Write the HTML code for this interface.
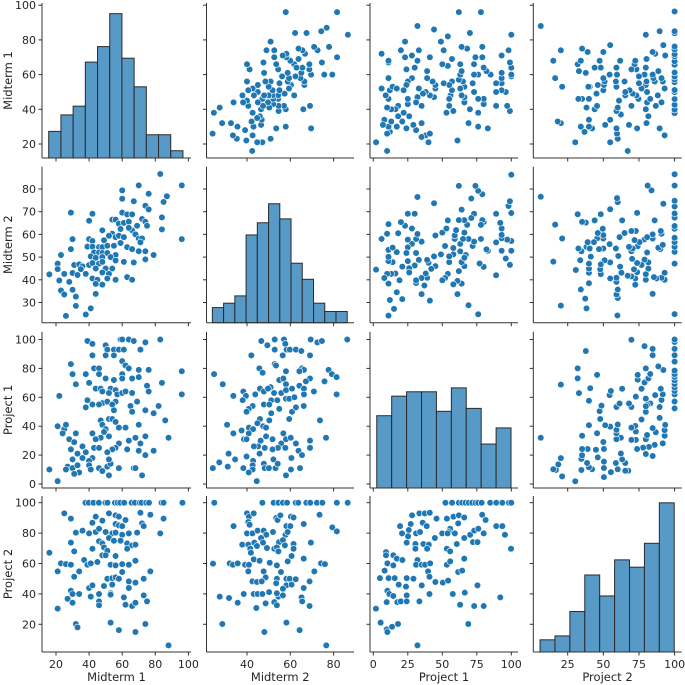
<!DOCTYPE html>
<html><head><meta charset="utf-8"><style>
html,body{margin:0;padding:0;background:#fff}
svg{display:block}
text{font-family:"DejaVu Sans","Liberation Sans",sans-serif;fill:#262626}
</style></head><body>
<svg id="chart" width="685" height="685" viewBox="0 0 685 685" xmlns="http://www.w3.org/2000/svg"></svg>
<script>
const varNames=["Midterm 1","Midterm 2","Project 1","Project 2"];
const ticksM1=[20,40,60,80,100];
const ticksM2x=[40,60,80];
const ticksM2y=[30,40,50,60,70,80];
const ticksP1=[0,20,40,60,80,100];
const ticksP1x=[0,25,50,75,100];
const ticksP2x=[25,50,75,100];
const ticksP2y=[20,40,60,80,100];
// histograms
const histM1Range=[15.6,96.7];
const histM1Counts=[5.5,8.9,10.7,19.8,23,29.8,20.6,14.7,4.8,4.8,1.5];
const histM2Range=[24.0,86.3];
const histM2Counts=[3.1,4,5.5,18,20.5,24.4,21.3,12.2,8.9,4,2.3,2.3];
const histP1Range=[2.5,99.8];
const histP1Counts=[14.8,18.8,19.7,19.7,15.7,20.5,16.3,9,12.3];
const histP2Range=[5.6,99.75];
const histP2Counts=[2.5,3.3,8.3,15.8,11.5,18.9,17.4,22.3,30.6];
// scatter pairs
const A_m1=[83,96,70,60,60,76,87,85,67,74,76,29,42,40,60,63,66,54,56,72,74,84,58,61,64,69,75,84,48,59,66,64,54,52,56,58,61,68,70,72,30,40,42,49,59,71,96,29,39,42,46,48,51,55,63,66,70,74,43,46,48,51,56,23,41,44,48,53,56,61,67,74,79,21,31,34,36,40,42,46,48,21,35,44,50,54,16,25,30,33,38,48,52,42,45,51,56,63,66,22,28,44,48,23,25,30,32,44,32,41,38,26];
const A_m2=[86.6,81.6,81.6,79.4,75.7,77.9,76.8,74.3,74.6,72.6,71,69.6,69.1,66,69.6,68.8,68.8,66.5,66.5,66.8,65.6,67.5,64.7,65.1,65.6,63.8,63.8,62.2,61.8,62.4,61.8,62.9,60.3,59.4,58.8,59.4,58.8,60,58.2,58.2,57.9,57.9,57.1,57.4,56.2,56.5,57.9,53.5,54.6,54.6,54.4,54.4,55,55,54.4,53.5,52.6,52.6,52.1,52.1,51.8,51.8,50.9,50.9,50.3,49.7,50,50,48.5,47.9,47.6,49,50.9,47.1,46.5,46.8,45.9,46.5,47.4,47.1,47.9,44.7,44.7,45,45,45,42.4,42.6,43,42.1,42.6,43.2,42.6,40.6,40,40.6,40,41.2,40,39.7,39.1,38.2,37.9,35.3,33.5,35.6,32.6,33.8,28.5,27.4,24.7,24.1];
const B_m1=[59,64,67,83,60,39,42,50,74,51,55,58,61,71,42,50,55,60,29,62,64,43,46,76,70,96,30,38,46,60,50,55,60,66,70,84,32,40,75,44,47,53,56,48,52,57,60,62,66,76,96,22,39,48,51,56,69,42,38,46,54,55,65,66,74,79,82,47,52,54,56,58,48,50,70,86,62,21,25,26,24,32,42,49,47,44,52,28,31,58,56,64,68,74,88,71,63,54,43,46,29,36,33,38,42,51,70,74,79,30,36,40,40,27,30,33,46,51,53,52,58,67,68,48,41,34,31,26,16,52,72,21];
const B_p1=[100,100,99,100,100,99,97,96,98,93,93,93,93,93,89,89,89,85,83,82,80,80,80,79,79,78,76,76,76,76,73,72,73,73,74,70,69,70,68,66,66,66,65,64,63,62,63,64,63,64,62,61,58,56,57,57,57,55,53,55,55,51,54,50,51,49,54,44,45,45,43,39,41,38,41,44,39,40,38,41,35,35,35,36,32,31,33,31,29,28,25,30,32,33,32,28,24,24,25,25,24,26,21,22,18,22,23,20,23,17,18,16,13,12,11,13,11,12,14,17,11,11,11,9,10,8,7,10,10,6,6,2];
const C_m2=[46.6,52.8,57.1,69.4,72.5,74.6,86.3,49.4,57.7,52.8,58.3,59.8,62.6,65.1,42,56.5,69.1,52.8,53.4,45.7,65.4,66.3,77.7,47.2,58,64.2,79.2,81.4,24.8,54.9,56.8,69.1,67.2,75.8,28.8,58,64.2,50.9,46,47.8,49.7,52.5,55.8,58,60.8,66.3,70.9,38.3,39.5,43.8,33.7,38,58,59.5,61.9,66.3,81.4,51.2,54,47.8,50.3,54.9,60.8,62.6,66.2,42.6,40.8,39.8,51.2,46,50.3,44.8,47.5,48.8,59.5,30.8,73.7,40.9,42.8,37.5,33.7,40.8,56.8,76.5,38.6,39.8,46.3,48.8,51.8,58,60.2,55.8,57.7,54.3,51.8,48.2,45.1,43.2,62.6,69.1,63.8,69.1,65.4,31.5,34.5,39.8,45.8,42.8,52.2,60.5,27.2,31.1,24.2,38.3,42.6,42.6,40.8,47.8,48.2,50.1,53.2,54.2,60.3,64.5,58,44.5];
const C_p1=[99,100,100,100,98,99,100,96,97,93,93,93,93,92,89,89,89,83,82,80,80,79,79,77,78,78,76,74,76,72,73,73,71,71,69,69,68,67,66,64,66,63,63,65,66,66,64,64,61,62,61,58,59,59,60,62,62,58,58,55,55,52,50,53,54,54,52,50,49,45,44,42,40,39,45,41,44,39,38,37,35,35,35,32,31,31,30,33,31,31,32,28,25,25,24,25,26,26,28,30,23,25,20,21,17,19,21,16,17,18,15,12,11,11,13,10,8,14,11,11,11,14,10,11,6,2];
const D_m1=[37.8,39.8,42.6,45.9,49.9,51.1,55.6,57.2,58.8,61.2,65.7,67.7,70.5,71.7,74.5,76.2,83.8,85,96.4,25,29,44,52,56,58,62,71,77,85,42,48,56,58,60,72,73,32,36,40,44,46,50,54,56,64,69,83,60,29,46,48,52,55,59,63,66,68,63,42,49,51,48,50,56,31,16,23,26,29,37,39,41,45,53,56,60,64,68,21,34,60,77,51,54,56,58,64,68,73,31,54,29,30,34,40,42,46,49,41,46,46,53,53,61,64,62,66,68,73,75,27,30,21,32,33,53,58,68,74,88];
const D_p2=[100,100,100,100,100,100,100,100,100,100,100,100,100,100,100,100,100,100,100,93,89.5,90.8,93,91.7,90.8,88.6,93.4,92.1,89.5,86.8,88.2,86,85.1,84.6,86.4,84.6,80.3,81.6,79.8,80.7,82.9,80.7,79.8,80.3,79.8,80.3,79.8,78.9,73.7,74.6,73.2,76.8,75,75,73.2,71.9,72.4,69.7,69.7,70.6,68.4,65.4,65.4,64.9,68,67.1,60.1,59.6,59.2,62.3,59.2,60.1,61,59.2,58.8,59.6,59.2,61.8,54.8,54.8,54.4,54.8,50,50.4,50.9,50,48.2,47.4,50,51.3,46.1,42.1,39.9,39.9,43.9,45.6,39.9,45.2,38.2,35.1,32.5,40.4,39.5,37.7,43.9,32.9,32,34.2,39,35.1,36.8,34.2,30.3,20.2,18,21.1,16.2,14.9,20.2,6.1];
const E_m2=[24.9,47.1,52.3,54.5,56.6,58.5,62.5,63.7,67.4,69.2,72.3,74.8,81.5,86.5,40,40.9,43.1,53.5,54.1,55.4,60.3,61.5,73.5,33.8,40.6,41.2,58.2,60,79.4,81.5,66.2,40,42.5,44.9,47.7,48.9,52,57.8,58.8,37.8,40.6,43.4,46.5,47.4,54.8,56.6,61.5,69.5,41.5,44.6,49.2,52.6,53.8,54.5,57.5,61.5,41.8,24.3,32,33.5,35.7,39.1,40.9,43.1,45.8,50.5,53.8,58.8,60.6,66.2,74.2,76,40.6,47.7,55.7,71.1,48.6,53.8,58.2,59.7,62.5,68.9,42.5,44.6,46.8,53.5,58.2,60.6,66.2,56.6,27.4,31.7,35.7,38.5,43.1,44.9,47.1,50.2,54.5,53.8,56.6,48.6,44.3,52.6,53.8,65.2,65.5,68.9,28.6,48,58.2,64.3,76.6];
const E_p2=[100,100,100,100,100,100,100,100,100,100,100,100,100,100,93,90.8,93,89.9,88.6,91.7,90.8,90.3,92.1,84.6,87.3,85.5,84.6,84.6,83.8,81.1,86,79.8,79.8,81.6,81.6,78.9,80.7,78.9,80.7,72.4,72.4,73.7,76.8,73.7,74.1,75.4,72.8,73.7,69.7,71.5,70.2,69.7,70.6,68,71.9,69.7,67.1,59.9,60.1,59.2,60.1,59.2,59.2,62.7,61.8,60.5,58.8,61.4,64.9,63.2,60.1,59.6,54.8,54.8,54.4,54.8,50.9,50,50,50,49.6,48.2,48.2,47.8,48.2,47,45.6,46.1,43.9,43.4,38.2,37.3,34.2,39.9,39.9,39.9,39.9,41.2,38.2,40.4,39,33.8,30.7,34.6,32.5,37.7,35.1,32,20.2,14.9,21.1,16.2,6.1];
const F_p1=[52.3,57.1,62,64.4,66.8,69.2,71.7,74.1,76,78.5,84.7,89.1,93.5,98.3,100,28.1,33.4,37.3,40.9,45.8,53.3,58.1,62,65.9,78.9,81.4,35.8,38.7,27.1,61.5,89.1,93.5,55.7,54.7,19.4,25.7,20.8,31,33.9,49.9,53.8,59.1,70.2,73.1,76.1,80,95.4,65.9,44.6,25.2,24.2,30.5,36.3,40.2,60.5,72.2,75.5,30.5,39,53.3,55.7,99.8,9.2,14.5,17,21.1,9.2,65.9,32,31,35.1,37.5,41.2,53.3,55.7,10.2,14.5,8.2,39.7,61.5,64.4,4.8,11.1,15.5,24.2,29.1,40.7,18.4,23.7,35.1,45,50.4,54.2,75.5,10.2,24.2,11.6,14.5,9.7,17.4,19.9,24.2,33.4,40.7,57.6,66.3,92,62.9,73.1,80,1.9,5.3,9.7,10.2,13.6,17.9,68.8,32];
const F_p2=[100,100,100,100,100,100,100,100,100,100,100,100,100,100,100,91.7,93,93,93.4,89.5,89.5,90.8,91.7,90.3,92.1,88.6,86.8,84.6,86,86.4,84.6,84.6,82.9,80.7,84.6,82,79.8,79.8,80.7,79.8,79.8,79.8,78.9,81.6,82.9,79.8,78.9,76.8,76.8,77.9,73.7,72.8,72.8,72.4,72.8,74.1,74.1,69.7,69.7,69.7,68,69.7,67.5,65.4,63.2,62.3,65.4,63.2,62.3,59.2,59.2,59.2,60.1,59.2,61.4,60.1,58.8,55.3,54.8,54.4,55.3,50.4,50.4,50.4,50.4,50,51.3,46.1,44.8,45.6,47.8,47.4,48.7,45.6,42.1,39,39.9,38.6,34.6,34.6,35.1,35.1,35.1,39.9,39.9,40.8,37.7,32.9,32,32,30.3,21.1,16.7,14.9,18.4,20.2,20.2,6.1];

const NS="http://www.w3.org/2000/svg";
const svg=document.getElementById('chart');
function mk(tag,attrs,parent){const e=document.createElementNS(NS,tag);for(const k in attrs)e.setAttribute(k,attrs[k]);(parent||svg).appendChild(e);return e;}
// layout
const colL=[42,206.5,370,533.3], colR=[191,354,518,681.7];
const rowT=[3,166.7,331.7,496], rowB=[158,322.7,488,652];
// axis maps: [v0,p0,v1,p1]
const xMap=[[20,56,100,188.4],[40,247,80,333.6],[0,373.3,100,511.3],[25,567.7,100,674.6]];
const yMap=[[20,144,100,5.2],[80,189,30,302.5],[0,484,100,339.5],[20,624.3,100,502.7]];
function sx(j,v){const m=xMap[j];return m[1]+(v-m[0])*(m[3]-m[1])/(m[2]-m[0]);}
function sy(i,v){const m=yMap[i];return m[1]+(v-m[0])*(m[3]-m[1])/(m[2]-m[0]);}
const xTicks=[ticksM1,ticksM2x,ticksP1x,ticksP2x];
const yTicks=[ticksM1,ticksM2y,ticksP1,ticksP2y];
const vars=[{},{},{},{}];
const pairs={"1,0":[A_m1,A_m2],"2,0":[B_m1,B_p1],"2,1":[C_m2,C_p1],"3,0":[D_m1,D_p2],"3,1":[E_m2,E_p2],"3,2":[F_p1,F_p2]};
const hists=[[histM1Range,histM1Counts],[histM2Range,histM2Counts],[histP1Range,histP1Counts],[histP2Range,histP2Counts]];
const HMAX=32;
for(let i=0;i<4;i++){for(let j=0;j<4;j++){
  const g=mk('g',{});
  
  
  if(i===j){
    const [rg,cn]=hists[i];const w=(rg[1]-rg[0])/cn.length;
    const k=(rowB[i]-rowT[i])/HMAX;
    cn.forEach((c,b)=>{
      const x0=sx(j,rg[0]+b*w),x1=sx(j,rg[0]+(b+1)*w);
      const r=mk('rect',{x:x0,y:rowB[i]-c*k,width:x1-x0,height:c*k,fill:'rgb(87,153,199)',stroke:'#2b2b2b','stroke-width':1},g);
      
      
    });
  } else {
    let xs,ys;
    if(i>j){[xs,ys]=pairs[i+','+j];}else{const p=pairs[j+','+i];xs=p[1];ys=p[0];}
    const n=Math.min(xs.length,ys.length);
    for(let q=0;q<n;q++){
      const c=mk('circle',{cx:sx(j,xs[q]),cy:sy(i,ys[q]),r:3.3,fill:'#1f77b4',stroke:'#fff','stroke-width':0.6},g);
      
      
    }
  }
  // spines
  mk('line',{x1:colL[j],y1:rowT[i],x2:colL[j],y2:rowB[i],stroke:'#333','stroke-width':1},g);
  mk('line',{x1:colL[j],y1:rowB[i],x2:colR[j],y2:rowB[i],stroke:'#333','stroke-width':1},g);
  xTicks[j].forEach(t=>{const x=sx(j,t);mk('line',{x1:x,y1:rowB[i],x2:x,y2:rowB[i]+3.5,stroke:'#333','stroke-width':1},g);
    if(i===3){const tx=mk('text',{x:x,y:668,'font-size':11,'text-anchor':'middle'},g);tx.textContent=t;}});
  yTicks[i].forEach(t=>{const y=sy(i,t);mk('line',{x1:colL[j]-3.5,y1:y,x2:colL[j],y2:y,stroke:'#333','stroke-width':1},g);
    if(j===0){const tx=mk('text',{x:36,y:y+4,'font-size':11,'text-anchor':'end'},g);tx.textContent=t;}});
}}
for(let k=0;k<4;k++){
  const xt=mk('text',{x:(colL[k]+colR[k])/2,y:681,'font-size':11.5,'text-anchor':'middle'});
  xt.textContent=varNames[k];
  
  
  const cy=(rowT[k]+rowB[k])/2;
  const yt=mk('text',{x:12,y:cy,'font-size':11.5,'text-anchor':'middle',transform:'rotate(-90 12 '+cy+')'});
  yt.textContent=varNames[k];
  
  
}
</script>
</body></html>
